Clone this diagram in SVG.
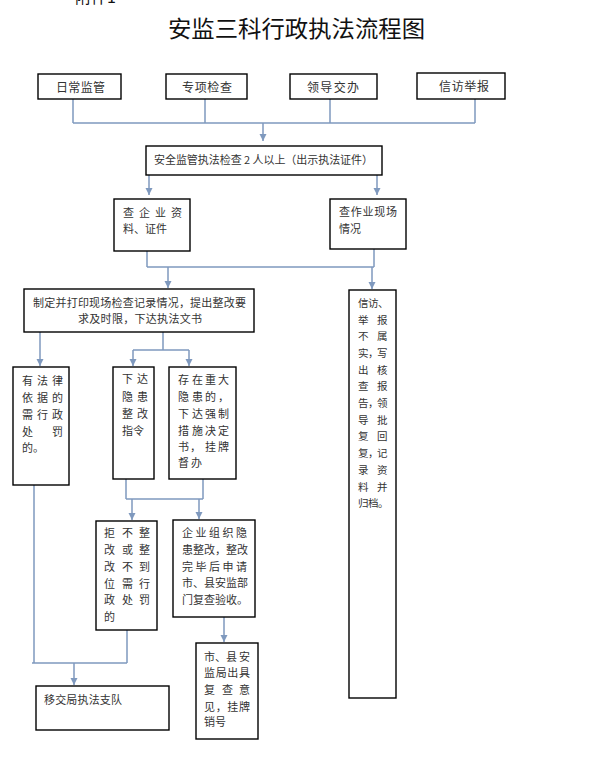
<svg xmlns="http://www.w3.org/2000/svg" width="591" height="766" viewBox="0 0 591 766">
<style>
  .box { fill: #ffffff; stroke: #000000; stroke-width: 1.4; }
  .t { font-family: "Noto Sans CJK SC", "Liberation Sans", sans-serif; font-size: 11px; fill: #333333; }
  .t12 { font-family: "Noto Sans CJK SC", "Liberation Sans", sans-serif; font-size: 12px; fill: #333333; }
  .title { font-family: "Noto Sans CJK SC", "Liberation Sans", sans-serif; font-size: 23px; fill: #111111; }
  .ln { fill: none; stroke: #7f99be; stroke-width: 1.5; }
  .ar { fill: none; stroke: #7f99be; stroke-width: 1.5; marker-end: url(#ah); }
</style>
<defs>
  <marker id="ah" markerUnits="userSpaceOnUse" markerWidth="8" markerHeight="8" refX="7" refY="4" orient="auto">
    <path d="M0,0.5 L7,4 L0,7.5 z" fill="#7f99be"/>
  </marker>
</defs>
<rect width="591" height="766" fill="#ffffff"/>
<text class="title" x="75" y="3" style="font-size:16px">附件1</text>
<text class="title" x="168" y="37" textLength="257" lengthAdjust="spacingAndGlyphs">安监三科行政执法流程图</text>

<g id="connectors">
  <path class="ln" d="M73,99 V123 M205,99 V123 M330,99 V123 M475,99 V123 M73,123 H475"/>
  <path class="ar" d="M263,123 V141"/>
  <path class="ar" d="M149,175 V195"/>
  <path class="ar" d="M377,175 V195"/>
  <path class="ln" d="M147,251 V267 M374,249 V267 M147,267 H374"/>
  <path class="ar" d="M168,267 V288"/>
  <path class="ar" d="M372,267 V289"/>
  <path class="ar" d="M40,332 V366"/>
  <path class="ln" d="M163,332 V350 M133,350 H189"/>
  <path class="ar" d="M133,350 V366"/>
  <path class="ar" d="M189,350 V366"/>
  <path class="ln" d="M126,479 V499 M203,479 V499 M126,499 H203"/>
  <path class="ar" d="M132,499 V520"/>
  <path class="ar" d="M199,499 V519"/>
  <path class="ar" d="M224,617 V642"/>
  <path class="ln" d="M34,485 V663 M127,630 V663 M32,663 H127"/>
  <path class="ar" d="M74,663 V685"/>
</g>

<g id="n-richang">
  <rect class="box" x="38" y="74" width="83" height="25"/>
  <text class="t12" x="56" y="91.5" textLength="49">日常监管</text>
</g>
<g id="n-zhuanxiang">
  <rect class="box" x="166" y="74" width="81" height="25"/>
  <text class="t12" x="182" y="91.5" textLength="50">专项检查</text>
</g>
<g id="n-lingdao">
  <rect class="box" x="290" y="74" width="87" height="25"/>
  <text class="t12" x="307" y="91.5" textLength="52">领导交办</text>
</g>
<g id="n-xinfang">
  <rect class="box" x="417" y="73" width="88" height="26"/>
  <text class="t12" x="439" y="91" textLength="50">信访举报</text>
</g>

<g id="n-anquan">
  <rect class="box" x="146" y="146" width="236" height="29"/>
  <text class="t" x="154" y="164" textLength="219">安全监管执法检查 2 人以上（出示执法证件）</text>
</g>

<g id="n-qiye">
  <rect class="box" x="114" y="199" width="76" height="52"/>
  <text class="t" x="123 139 155 171" y="217">查企业资</text>
  <text class="t" x="123" y="233">料、证件</text>
</g>
<g id="n-zuoye">
  <rect class="box" x="330" y="199" width="76" height="50"/>
  <text class="t" x="339" y="216" textLength="58">查作业现场</text>
  <text class="t" x="339" y="233">情况</text>
</g>

<g id="n-zhiding">
  <rect class="box" x="24" y="289" width="230" height="43"/>
  <text class="t" x="33" y="307" textLength="213">制定并打印现场检查记录情况，提出整改要</text>
  <text class="t" x="78" y="323" textLength="124">求及时限，下达执法文书</text>
</g>

<g id="n-xingzheng">
  <rect class="box" x="13" y="367" width="56" height="118"/>
  <text class="t" x="22 37 52" y="385">有法律</text>
  <text class="t" x="22 37 52" y="402">依据的</text>
  <text class="t" x="22 37 52" y="419">需行政</text>
  <text class="t" x="22 52" y="436">处罚</text>
  <text class="t" x="22" y="452">的。</text>
</g>

<g id="n-xiada">
  <rect class="box" x="113" y="367" width="41" height="112"/>
  <text class="t" x="122 137" y="383">下达</text>
  <text class="t" x="122 137" y="401">隐患</text>
  <text class="t" x="122 137" y="418">整改</text>
  <text class="t" x="122" y="435">指令</text>
</g>

<g id="n-zhongda">
  <rect class="box" x="169" y="367" width="67" height="112"/>
  <text class="t" x="178 192 205 218" y="384">存在重大</text>
  <text class="t" x="178 192 205 218" y="401">隐患的，</text>
  <text class="t" x="178 192 205 218" y="418">下达强制</text>
  <text class="t" x="178 192 205 218" y="435">措施决定</text>
  <text class="t" x="178 190 205 218" y="451">书，挂牌</text>
  <text class="t" x="178 191" y="467">督办</text>
</g>

<g id="n-xinfang-result">
  <rect class="box" x="349" y="290" width="47" height="408"/>
  <text class="t" x="358 368 378" y="307" style="font-size:10.5px">信访、</text>
  <text class="t" x="358 377" y="324" style="font-size:10.5px">举报</text>
  <text class="t" x="358 377" y="340" style="font-size:10.5px">不属</text>
  <text class="t" x="358 368 377" y="357" style="font-size:10.5px">实，写</text>
  <text class="t" x="358 377" y="374" style="font-size:10.5px">出核</text>
  <text class="t" x="358 377" y="390" style="font-size:10.5px">查报</text>
  <text class="t" x="358 368 377" y="407" style="font-size:10.5px">告，领</text>
  <text class="t" x="358 377" y="424" style="font-size:10.5px">导批</text>
  <text class="t" x="358 377" y="440" style="font-size:10.5px">复回</text>
  <text class="t" x="358 368 377" y="457" style="font-size:10.5px">复，记</text>
  <text class="t" x="358 377" y="474" style="font-size:10.5px">录资</text>
  <text class="t" x="358 377" y="491" style="font-size:10.5px">料并</text>
  <text class="t" x="358 368 378" y="507" style="font-size:10.5px">归档。</text>
</g>

<g id="n-jugai">
  <rect class="box" x="96" y="521" width="61" height="109"/>
  <text class="t" x="104 122 139" y="537">拒不整</text>
  <text class="t" x="104 122 139" y="554">改或整</text>
  <text class="t" x="104 122 139" y="571">改不到</text>
  <text class="t" x="104 122 139" y="588">位需行</text>
  <text class="t" x="104 122 139" y="604">政处罚</text>
  <text class="t" x="104" y="621">的</text>
</g>

<g id="n-zhenggai">
  <rect class="box" x="173" y="520" width="82" height="97"/>
  <text class="t" x="182 195.5 209 222.5 236" y="537">企业组织隐</text>
  <text class="t" x="182" y="554" textLength="66">患整改，整改</text>
  <text class="t" x="182 195.5 209 222.5 236" y="571">完毕后申请</text>
  <text class="t" x="182" y="587" textLength="66">市、县安监部</text>
  <text class="t" x="182" y="604" textLength="66">门复查验收。</text>
</g>

<g id="n-fucha">
  <rect class="box" x="196" y="643" width="62" height="96"/>
  <text class="t" x="204 215 226 239" y="661">市、县安</text>
  <text class="t" x="204" y="677" textLength="46">监局出具</text>
  <text class="t" x="204 222 239" y="694">复查意</text>
  <text class="t" x="204" y="711" textLength="46">见，挂牌</text>
  <text class="t" x="204 215" y="726">销号</text>
</g>

<g id="n-yijiao">
  <rect class="box" x="36" y="686" width="133" height="44"/>
  <text class="t" x="44" y="704" textLength="78">移交局执法支队</text>
</g>
</svg>
